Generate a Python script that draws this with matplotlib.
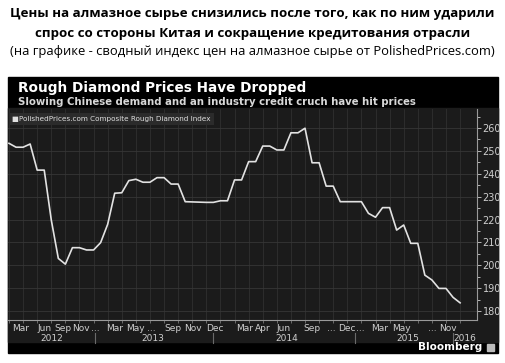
import numpy as np
import matplotlib.pyplot as plt
from matplotlib.patches import Rectangle

# composite rough diamond index, one value per reading (index-based x axis)
prices = [253.3, 251.6, 251.6, 253.0, 241.6, 241.6, 219.8, 203.0, 200.5, 207.7,
          207.7, 206.7, 206.7, 209.9, 217.9, 231.5, 231.7, 237.0, 237.6, 236.3,
          236.3, 238.3, 238.3, 235.5, 235.5, 227.8, 227.7, 227.6, 227.5, 227.5,
          228.2, 228.2, 237.3, 237.3, 245.3, 245.3, 252.1, 252.1, 250.4, 250.4,
          257.9, 257.9, 259.9, 244.8, 244.8, 234.6, 234.6, 227.8, 227.8, 227.8,
          227.8, 222.7, 221.0, 225.2, 225.2, 215.4, 217.6, 209.6, 209.6, 195.7,
          193.6, 189.9, 189.9, 186.0, 183.6]

month_pos = [1.7, 5.1, 7.7, 10.2, 12.3, 15.0, 17.9, 20.2, 23.3, 26.1, 29.2,
             33.5, 36.0, 38.9, 43.0, 45.7, 47.9, 49.9, 52.6, 55.7, 60.0, 62.3]
month_lbl = ['Mar', 'Jun', 'Sep', 'Nov', '...', 'Mar', 'May', '...', 'Sep', 'Nov', 'Dec',
             'Mar', 'Apr', 'Jun', 'Sep', '...', 'Dec', '...', 'Mar', 'May', '...', 'Nov']
year_pos = [6.0, 20.4, 39.4, 56.6, 64.7]
year_lbl = ['2012', '2013', '2014', '2015', '2016']
year_sep = [12.2, 28.9, 49.1, 63.0]

W, H = 505, 363
fig = plt.figure(figsize=(W / 100, H / 100), dpi=100)
fig.patch.set_facecolor('white')


def fx(x):
    return x / W


def fy(y):
    return 1 - y / H


# top russian caption
fig.text(0.5, fy(14), 'Цены на алмазное сырье снизились после того, как по ним ударили',
         ha='center', va='center', fontsize=9.6, fontweight='bold', family='Open Sans')
fig.text(0.5, fy(33), 'спрос со стороны Китая и сокращение кредитования отрасли',
         ha='center', va='center', fontsize=9.6, fontweight='bold', family='Open Sans')
fig.text(0.5, fy(52), '(на графике - сводный индекс цен на алмазное сырье от PolishedPrices.com)',
         ha='center', va='center', fontsize=9.4, family='Open Sans')

# bloomberg panel
fig.patches.append(Rectangle((fx(8), fy(353)), fx(490), (353 - 77) / H,
                             transform=fig.transFigure, color='black', zorder=-3))
fig.patches.append(Rectangle((fx(8), fy(342)), fx(490), (342 - 108) / H,
                             transform=fig.transFigure, color='#1b1b1b', zorder=-2))
fig.text(fx(18), fy(88), 'Rough Diamond Prices Have Dropped', color='white',
         fontsize=9.8, fontweight='bold', va='center')
fig.text(fx(18), fy(102), 'Slowing Chinese demand and an industry credit cruch have hit prices',
         color='#d8d8d8', fontsize=7.3, fontweight='bold', va='center')
fig.text(fx(482), fy(347), 'Bloomberg', color='white', fontsize=7.5,
         fontweight='bold', ha='right', va='center')
fig.patches.append(Rectangle((fx(487), fy(351)), fx(7), 7 / H,
                             transform=fig.transFigure, color='#bbbbbb', zorder=3))

ax = fig.add_axes([fx(8), fy(320), fx(477 - 8), (320 - 109) / H])
ax.set_facecolor('#1b1b1b')
x = np.arange(len(prices))
ax.plot(x, prices, color='#e2e2e2', lw=1.2, zorder=3)
ax.set_xlim(-0.14, 66.4)
ax.set_ylim(176.1, 268.3)

ax.yaxis.tick_right()
ax.set_yticks(range(180, 261, 10))
ax.set_yticks(range(185, 266, 10), minor=True)
ax.tick_params(axis='y', which='both', colors='#cfcfcf', labelsize=7, length=3,
               width=0.6, pad=1)
ax.tick_params(axis='y', which='minor', length=2)
ax.grid(axis='y', color='#363636', lw=0.6)

ax.set_xticks(np.arange(0, 66, 2))
ax.set_xticklabels([])
ax.tick_params(axis='x', colors='#8a8a8a', length=2, width=0.5)
ax.grid(axis='x', color='#303030', lw=0.6)

for s in ['top', 'left']:
    ax.spines[s].set_visible(False)
for s in ['bottom', 'right']:
    ax.spines[s].set_color('#9a9a9a')
    ax.spines[s].set_linewidth(0.8)

for p, l in zip(month_pos, month_lbl):
    ax.text(p, -0.04, l, transform=ax.get_xaxis_transform(), ha='center', va='center',
            color='#d0d0d0', fontsize=6.5)
for p, l in zip(year_pos, year_lbl):
    ax.text(p, -0.09, l, transform=ax.get_xaxis_transform(), ha='center', va='center',
            color='#d0d0d0', fontsize=6.5)
for p in year_sep:
    ax.plot([p, p], [-0.06, -0.11], transform=ax.get_xaxis_transform(),
            color='#6a6a6a', lw=0.8, clip_on=False)

ax.text(0.008, 0.953, '\u25a0PolishedPrices.com Composite Rough Diamond Index',
        transform=ax.transAxes, color='#e0e0e0', fontsize=5.2, va='center',
        bbox=dict(boxstyle='square,pad=0.45', fc='#2b2b2b', ec='none'), zorder=5)

fig.savefig('out.png', dpi=100)
